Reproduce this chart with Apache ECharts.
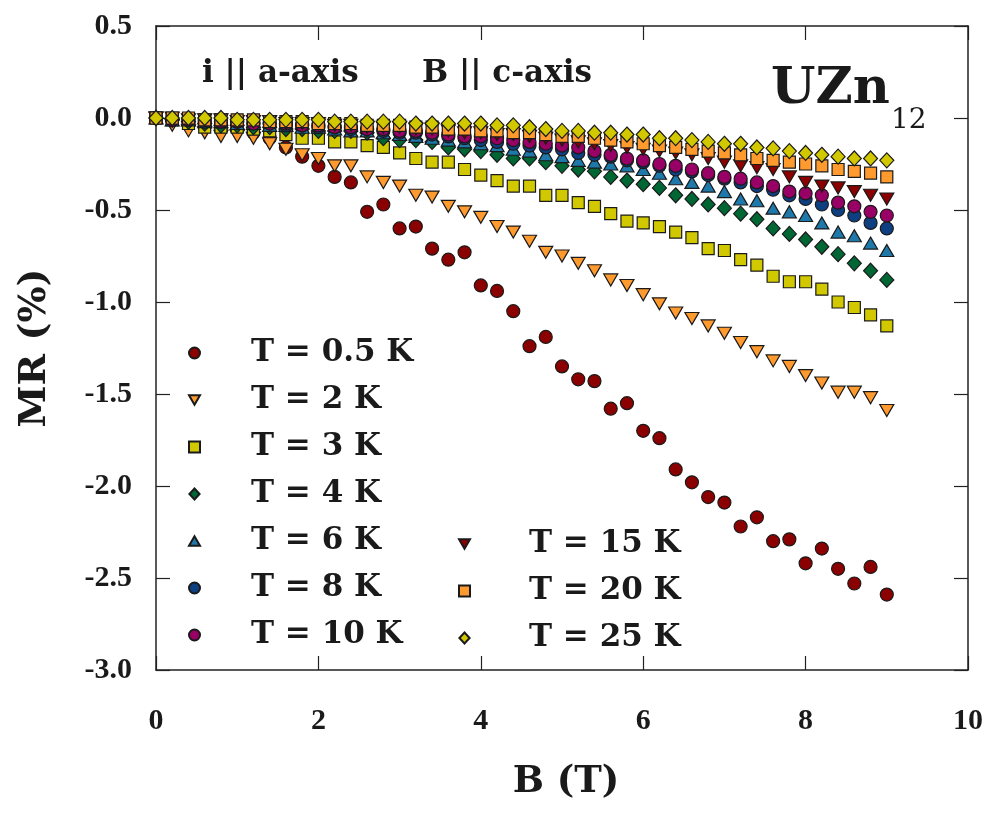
<!DOCTYPE html>
<html>
<head>
<meta charset="utf-8">
<script src="https://cdn.jsdelivr.net/npm/echarts@6/dist/echarts.min.js"></script>
<style>
  html, body { margin: 0; padding: 0; background: #ffffff; }
  #chart { width: 993px; height: 813px; }
</style>
</head>
<body>
<div id="chart"></div>
<script>
// Magnetic field B (T)
const fieldB = [0,0.2,0.4,0.6,0.8,1.0,1.2,1.4,1.6,1.8,2.0,2.2,2.4,2.6,2.8,3.0,3.2,3.4,3.6,3.8,4.0,4.2,4.4,4.6,4.8,5.0,5.2,5.4,5.6,5.8,6.0,6.2,6.4,6.6,6.8,7.0,7.2,7.4,7.6,7.8,8.0,8.2,8.4,8.6,8.8,9.0];

// MR (%) per temperature
const mr_0_5K = [0,-0.01,-0.03,-0.04,-0.05,-0.06,-0.08,-0.11,-0.16,-0.21,
  -0.26,-0.32,-0.35,-0.51,-0.47,-0.60,-0.59,-0.71,-0.77,-0.73,
  -0.91,-0.94,-1.05,-1.24,-1.19,-1.35,-1.42,-1.43,-1.58,-1.55,
  -1.70,-1.74,-1.91,-1.98,-2.06,-2.09,-2.22,-2.17,-2.30,-2.29,
  -2.42,-2.34,-2.45,-2.53,-2.44,-2.59];
const mr_2K = [0,-0.04,-0.07,-0.08,-0.10,-0.10,-0.11,-0.14,-0.17,-0.20,
  -0.22,-0.26,-0.26,-0.32,-0.35,-0.37,-0.42,-0.43,-0.48,-0.51,
  -0.54,-0.59,-0.62,-0.67,-0.73,-0.75,-0.79,-0.83,-0.88,-0.91,
  -0.96,-1.01,-1.06,-1.09,-1.13,-1.17,-1.22,-1.27,-1.32,-1.35,
  -1.40,-1.44,-1.49,-1.49,-1.52,-1.59];
const mr_3K = [0,-0.01,-0.03,-0.05,-0.05,-0.05,-0.06,-0.07,-0.09,-0.11,
  -0.11,-0.13,-0.13,-0.15,-0.16,-0.19,-0.22,-0.24,-0.24,-0.28,
  -0.31,-0.34,-0.37,-0.37,-0.42,-0.42,-0.46,-0.48,-0.52,-0.56,
  -0.57,-0.59,-0.62,-0.65,-0.71,-0.72,-0.77,-0.80,-0.86,-0.89,
  -0.89,-0.93,-1.00,-1.03,-1.07,-1.13];
const mr_4K = [0,-0.01,-0.02,-0.03,-0.04,-0.04,-0.05,-0.05,-0.06,-0.06,
  -0.07,-0.07,-0.07,-0.08,-0.11,-0.12,-0.12,-0.13,-0.16,-0.17,
  -0.18,-0.20,-0.22,-0.22,-0.24,-0.26,-0.28,-0.29,-0.32,-0.34,
  -0.36,-0.38,-0.42,-0.44,-0.47,-0.49,-0.52,-0.55,-0.60,-0.63,
  -0.66,-0.70,-0.74,-0.79,-0.83,-0.88];
const mr_6K = [0,-0.01,-0.01,-0.02,-0.02,-0.03,-0.03,-0.04,-0.04,-0.05,
  -0.05,-0.06,-0.07,-0.07,-0.08,-0.09,-0.10,-0.11,-0.12,-0.13,
  -0.14,-0.15,-0.17,-0.18,-0.20,-0.21,-0.23,-0.24,-0.25,-0.26,
  -0.28,-0.30,-0.33,-0.35,-0.37,-0.40,-0.44,-0.45,-0.49,-0.51,
  -0.53,-0.57,-0.62,-0.64,-0.68,-0.72];
const mr_8K = [0,-0.01,-0.01,-0.02,-0.02,-0.02,-0.03,-0.03,-0.04,-0.04,
  -0.05,-0.05,-0.06,-0.06,-0.07,-0.08,-0.08,-0.09,-0.10,-0.11,
  -0.12,-0.13,-0.14,-0.15,-0.16,-0.17,-0.19,-0.20,-0.21,-0.23,
  -0.24,-0.26,-0.28,-0.29,-0.31,-0.33,-0.35,-0.37,-0.39,-0.42,
  -0.44,-0.47,-0.50,-0.53,-0.57,-0.60];
const mr_10K = [0,-0.01,-0.01,-0.01,-0.02,-0.02,-0.03,-0.03,-0.03,-0.04,
  -0.04,-0.05,-0.05,-0.06,-0.06,-0.07,-0.07,-0.08,-0.09,-0.10,
  -0.10,-0.11,-0.12,-0.13,-0.14,-0.15,-0.16,-0.18,-0.20,-0.22,
  -0.23,-0.25,-0.26,-0.28,-0.30,-0.32,-0.33,-0.35,-0.37,-0.40,
  -0.41,-0.42,-0.46,-0.48,-0.51,-0.53];
const mr_15K = [0,0,-0.01,-0.01,-0.01,-0.02,-0.02,-0.02,-0.03,-0.03,
  -0.03,-0.04,-0.04,-0.05,-0.05,-0.05,-0.06,-0.06,-0.07,-0.08,
  -0.08,-0.09,-0.09,-0.10,-0.11,-0.12,-0.13,-0.14,-0.15,-0.16,
  -0.17,-0.18,-0.19,-0.20,-0.22,-0.24,-0.26,-0.27,-0.28,-0.32,
  -0.35,-0.37,-0.38,-0.40,-0.42,-0.44];
const mr_20K = [0,0,0,-0.01,-0.01,-0.01,-0.01,-0.02,-0.02,-0.02,
  -0.03,-0.03,-0.03,-0.04,-0.04,-0.04,-0.05,-0.05,-0.06,-0.06,
  -0.07,-0.07,-0.08,-0.08,-0.09,-0.10,-0.10,-0.11,-0.12,-0.13,
  -0.14,-0.15,-0.16,-0.17,-0.18,-0.19,-0.20,-0.22,-0.23,-0.24,
  -0.25,-0.26,-0.28,-0.29,-0.30,-0.32];
const mr_25K = [0,0,0,0,0,-0.01,-0.01,-0.01,-0.01,-0.01,
  -0.01,-0.02,-0.02,-0.02,-0.02,-0.02,-0.03,-0.03,-0.03,-0.03,
  -0.03,-0.04,-0.04,-0.05,-0.06,-0.07,-0.07,-0.08,-0.08,-0.09,
  -0.09,-0.11,-0.11,-0.12,-0.13,-0.14,-0.14,-0.16,-0.165,-0.18,
  -0.19,-0.20,-0.21,-0.22,-0.22,-0.23];

const seriesNames = ['T = 0.5 K','T = 2 K','T = 3 K','T = 4 K','T = 6 K','T = 8 K','T = 10 K','T = 15 K','T = 20 K','T = 25 K'];
const seriesValues = [mr_0_5K, mr_2K, mr_3K, mr_4K, mr_6K, mr_8K, mr_10K, mr_15K, mr_20K, mr_25K];

const xTicks = [0, 2, 4, 6, 8, 10];
const yTicks = [0.5, 0.0, -0.5, -1.0, -1.5, -2.0, -2.5, -3.0];

// marker shapes
const DOWN_TRI = 'path://M0,0 L10,0 L5,8.6 Z';
const UP_TRI = 'path://M5,0 L10,8.6 L0,8.6 Z';
const SQUARE = 'path://M0,0 L10,0 L10,10 L0,10 Z';
const DIAMOND = 'path://M5,0 L10,5.4 L5,10.8 L0,5.4 Z';
const styles = [
  { symbol: 'circle', size: 13,       color: '#8B0000' },
  { symbol: DOWN_TRI, size: [14, 12], color: '#FF9A2E' },
  { symbol: SQUARE,   size: 12,       color: '#D2C800' },
  { symbol: DIAMOND,  size: [14, 15], color: '#006633' },
  { symbol: UP_TRI,   size: [14, 12], color: '#1F78AA' },
  { symbol: 'circle', size: 13,       color: '#0E3F80' },
  { symbol: 'circle', size: 13,       color: '#990066' },
  { symbol: DOWN_TRI, size: [14, 12], color: '#8B0000' },
  { symbol: SQUARE,   size: 12,       color: '#FF9A2E' },
  { symbol: DIAMOND,  size: [14, 15], color: '#D2C800' }
];

const SERIF = '"DejaVu Serif", "Liberation Serif", serif';
const TICKFONT = '"Liberation Serif", "DejaVu Serif", serif';

const series = seriesNames.map((name, i) => ({
  name: name,
  type: 'scatter',
  symbol: styles[i].symbol,
  symbolSize: styles[i].size,
  itemStyle: { color: styles[i].color, borderColor: '#1a1a1a', borderWidth: 1.2, opacity: 1 },
  emphasis: { disabled: true },
  data: fieldB.map((b, k) => [b, seriesValues[i][k]])
}));

const legendCommon = {
  orient: 'vertical',
  itemWidth: 11,
  itemHeight: 11,
  itemGap: 7,
  padding: 0,
  symbolKeepAspect: true,
  selectedMode: false
};
const legendText = (padLeft) => ({
  fontFamily: SERIF, fontWeight: 'bold', fontSize: 31, color: '#1a1a1a',
  lineHeight: 40, padding: [0, 0, 0, padLeft]
});

const axisLineStyle = { color: '#222', width: 1.5 };
const tickStyle = { show: true, inside: true, length: 14, lineStyle: { color: '#222', width: 1.2 } };

const chart = echarts.init(document.getElementById('chart'), null, { renderer: 'canvas' });
chart.setOption({
  backgroundColor: '#ffffff',
  animation: false,
  grid: { left: 156, right: 25, top: 26, bottom: 143, containLabel: false },
  legend: [
    Object.assign({}, legendCommon, {
      left: 188, top: 333, textStyle: legendText(46),
      data: seriesNames.slice(0, 7).map((n, i) => ({ name: n, icon: styles[i].symbol }))
    }),
    Object.assign({}, legendCommon, {
      left: 458, top: 524, textStyle: legendText(54),
      data: seriesNames.slice(7).map((n, i) => ({ name: n, icon: styles[i + 7].symbol }))
    })
  ],
  xAxis: [
    {
      type: 'value', min: xTicks[0], max: xTicks[xTicks.length - 1], interval: 2,
      name: 'B (T)', nameLocation: 'middle', nameGap: 94,
      nameTextStyle: { fontFamily: SERIF, fontWeight: 'bold', fontSize: 37, color: '#1a1a1a', padding: [0, 0, 0, 8] },
      axisLine: { show: true, onZero: false, lineStyle: axisLineStyle },
      axisTick: tickStyle,
      axisLabel: { margin: 36, fontFamily: TICKFONT, fontWeight: 'bold', fontSize: 30, color: '#1a1a1a' },
      splitLine: { show: false }
    },
    {
      type: 'value', position: 'top', min: 0, max: 10, interval: 2,
      axisLine: { show: true, onZero: false, lineStyle: axisLineStyle },
      axisTick: tickStyle,
      axisLabel: { show: false }, splitLine: { show: false }
    }
  ],
  yAxis: [
    {
      type: 'value', min: yTicks[yTicks.length - 1], max: yTicks[0], interval: 0.5,
      name: 'MR (%)', nameLocation: 'middle', nameGap: 102,
      nameTextStyle: { fontFamily: SERIF, fontWeight: 'bold', fontSize: 38, color: '#1a1a1a' },
      axisLine: { show: true, onZero: false, lineStyle: axisLineStyle },
      axisTick: tickStyle,
      axisLabel: { margin: 24, fontFamily: TICKFONT, fontWeight: 'bold', fontSize: 30, color: '#1a1a1a',
        formatter: v => v.toFixed(1) },
      splitLine: { show: false }
    },
    {
      type: 'value', position: 'right', min: -3, max: 0.5, interval: 0.5,
      axisLine: { show: true, onZero: false, lineStyle: axisLineStyle },
      axisTick: tickStyle,
      axisLabel: { show: false }, splitLine: { show: false }
    }
  ],
  graphic: [
    { type: 'text', left: 202, top: 58,
      style: { text: 'i || a-axis', fontFamily: SERIF, fontWeight: 'bold', fontSize: 31, fill: '#1a1a1a' } },
    { type: 'text', left: 422, top: 58,
      style: { text: 'B || c-axis', fontFamily: SERIF, fontWeight: 'bold', fontSize: 31, fill: '#1a1a1a' } },
    { type: 'text', left: 771, top: 64,
      style: { text: 'UZn', fontFamily: SERIF, fontWeight: 'bold', fontSize: 51, fill: '#1a1a1a' } },
    { type: 'text', left: 891, top: 107,
      style: { text: '12', fontFamily: SERIF, fontWeight: 'normal', fontSize: 28, fill: '#1a1a1a' } }
  ],
  series: series
});
</script>
</body>
</html>
